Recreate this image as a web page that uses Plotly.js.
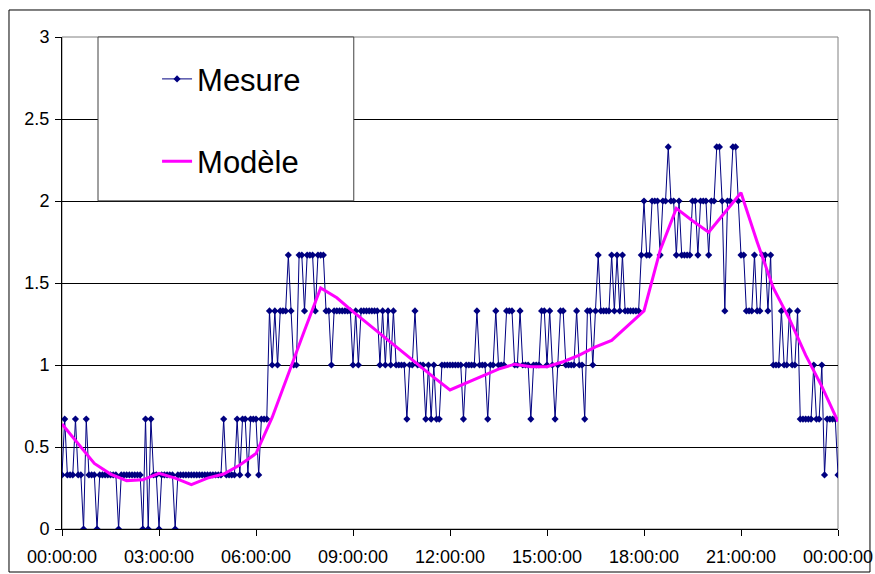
<!DOCTYPE html>
<html>
<head>
<meta charset="utf-8">
<script src="https://cdn.plot.ly/plotly-3.0.1.min.js"></script>
<style>
  html, body { margin: 0; padding: 0; background: #ffffff; }
  #chart { width: 875px; height: 574px; }
</style>
</head>
<body>
<div id="chart"></div>
<script>
// Relevé sur 24 h, un point toutes les 5 minutes (une ligne par heure)
const mesure = [
  // 00h
  0.33, 0.67, 0.33, 0.33, 0.33, 0.67, 0.33, 0.33, 0, 0.67, 0.33, 0.33,
  // 01h
  0.33, 0, 0.33, 0.33, 0.33, 0.33, 0.33, 0.33, 0.33, 0, 0.33, 0.33,
  // 02h
  0.33, 0.33, 0.33, 0.33, 0.33, 0.33, 0, 0.67, 0, 0.67, 0.33, 0.33,
  // 03h
  0, 0.33, 0.33, 0.33, 0.33, 0.33, 0, 0.33, 0.33, 0.33, 0.33, 0.33,
  // 04h
  0.33, 0.33, 0.33, 0.33, 0.33, 0.33, 0.33, 0.33, 0.33, 0.33, 0.33, 0.33,
  // 05h
  0.67, 0.33, 0.33, 0.33, 0.33, 0.67, 0.33, 0.67, 0.67, 0.33, 0.67, 0.67,
  // 06h
  0.67, 0.33, 0.67, 0.67, 0.67, 1.33, 1, 1.33, 1, 1.33, 1.33, 1.33,
  // 07h
  1.67, 1.33, 1, 1, 1.67, 1.67, 1.33, 1.67, 1.67, 1.67, 1.33, 1.67,
  // 08h
  1.67, 1.67, 1.33, 1.33, 1, 1.33, 1.33, 1.33, 1.33, 1.33, 1.33, 1.33,
  // 09h
  1, 1.33, 1, 1.33, 1.33, 1.33, 1.33, 1.33, 1.33, 1.33, 1, 1.33,
  // 10h
  1, 1.33, 1, 1.33, 1, 1, 1, 1, 0.67, 1, 1, 1.33,
  // 11h
  1, 1, 1, 0.67, 1, 0.67, 1, 0.67, 0.67, 1, 1, 1,
  // 12h
  1, 1, 1, 1, 1, 0.67, 1, 1, 1, 1, 1.33, 1,
  // 13h
  1, 1, 0.67, 1, 1, 1.33, 1, 1, 1, 1.33, 1.33, 1.33,
  // 14h
  1, 1, 1.33, 1, 1, 1, 0.67, 1, 1, 1, 1.33, 1.33,
  // 15h
  1, 1.33, 1, 0.67, 1, 1.33, 1.33, 1, 1, 1, 1, 1.33,
  // 16h
  1, 1, 0.67, 1.33, 1.33, 1, 1.33, 1.67, 1.33, 1.33, 1.33, 1.33,
  // 17h
  1.67, 1.33, 1.67, 1.33, 1.67, 1.33, 1.33, 1.33, 1.33, 1.33, 1.33, 1.67,
  // 18h
  2, 1.67, 1.67, 2, 2, 2, 1.67, 2, 2, 2.33, 2, 2,
  // 19h
  1.67, 2, 1.67, 1.67, 1.67, 1.67, 2, 2, 1.67, 2, 2, 2,
  // 20h
  1.67, 2, 2, 2.33, 2.33, 2, 1.33, 2, 2, 2.33, 2.33, 2,
  // 21h
  1.67, 1.67, 1.33, 1.33, 1.33, 1.67, 1.33, 1.33, 1.67, 1.67, 1.33, 1.67,
  // 22h
  1, 1, 1, 1.33, 1, 1, 1.33, 1, 1, 1.33, 0.67, 0.67,
  // 23h
  0.67, 0.67, 0.67, 1, 0.67, 0.67, 1, 0.33, 0.67, 0.67, 0.67, 0.67,
  // 24h
  0.33
];

// Modèle, un point par demi-heure de 00:00 à 24:00
const modele = [
  0.64, 0.52, 0.40, 0.335, 0.295, 0.30, 0.34, 0.31, 0.27, 0.31,
  0.335, 0.39, 0.46, 0.68, 0.95, 1.21, 1.47, 1.41, 1.325, 1.245,
  1.165, 1.08, 1.00, 0.925, 0.848, 0.89, 0.935, 0.975, 1.005, 0.99,
  0.99, 1.02, 1.06, 1.11, 1.15, 1.24, 1.33, 1.70, 1.955, 1.88,
  1.81, 1.93, 2.05, 1.75, 1.47, 1.28, 1.06, 0.87, 0.655
];

const pasMesureMin = 5;
const pasModeleMin = 30;
const jour = '2000-01-01';
const jourSuivant = '2000-01-02';
const yTicks = [0, 0.5, 1, 1.5, 2, 2.5, 3];

function horodatage(minutes) {
  const d = new Date(Date.UTC(2000, 0, 1, 0, minutes));
  const p = n => String(n).padStart(2, '0');
  return d.getUTCFullYear() + '-' + p(d.getUTCMonth() + 1) + '-' + p(d.getUTCDate()) +
         ' ' + p(d.getUTCHours()) + ':' + p(d.getUTCMinutes()) + ':00';
}

const tMesure = mesure.map((_, i) => horodatage(i * pasMesureMin));
const tModele = modele.map((_, i) => horodatage(i * pasModeleMin));

const police = 'Liberation Sans, Arial, sans-serif';

const traces = [
  {
    name: 'Mesure',
    x: tMesure,
    y: mesure,
    type: 'scatter',
    mode: 'lines+markers',
    legendgroup: 'a',
    line: { color: '#000080', width: 1 },
    marker: { symbol: 'diamond', size: 5.5, color: '#000080' }
  },
  {
    name: 'Modèle',
    x: tModele,
    y: modele,
    type: 'scatter',
    mode: 'lines',
    legendgroup: 'b',
    line: { color: '#FF00FF', width: 3 }
  }
];

const layout = {
  width: 875,
  height: 574,
  margin: { l: 62, r: 37, t: 37, b: 45 },
  paper_bgcolor: '#ffffff',
  plot_bgcolor: '#ffffff',
  font: { family: police, size: 18, color: '#000000' },
  showlegend: true,
  legend: {
    x: 0.1225, y: 0.969, xanchor: 'left', yanchor: 'top',
    bgcolor: 'rgba(0,0,0,0)',
    borderwidth: 0,
    font: { family: police, size: 31, color: '#000000' },
    tracegroupgap: 39,
    traceorder: 'grouped'
  },
  xaxis: {
    type: 'date',
    range: [jour + ' 00:00:00', jourSuivant + ' 00:00:00'],
    tick0: jour + ' 00:00:00',
    dtick: 3 * 3600 * 1000,
    tickformat: '%H:%M:%S',
    showgrid: false,
    zeroline: false,
    showline: true,
    linecolor: '#000000',
    linewidth: 1,
    ticks: 'outside',
    ticklen: 6,
    tickcolor: '#000000',
    ticklabelstandoff: 5,
    tickfont: { family: police, size: 18, color: '#000000' }
  },
  yaxis: {
    range: [0, 3],
    tickvals: yTicks,
    ticktext: yTicks.map(String),
    showgrid: true,
    gridcolor: '#000000',
    gridwidth: 1,
    zeroline: false,
    showline: true,
    linecolor: '#000000',
    linewidth: 1,
    ticks: 'outside',
    ticklen: 6,
    tickcolor: '#000000',
    ticklabelstandoff: 2,
    tickfont: { family: police, size: 18, color: '#000000' }
  },
  shapes: [
    // cadre de la zone de tracé
    { type: 'rect', xref: 'paper', yref: 'paper', x0: 0, x1: 1, y0: 0, y1: 1,
      line: { color: '#808080', width: 1 }, layer: 'below' },
    // cadre de la légende
    { type: 'rect', xref: 'paper', yref: 'paper',
      x0: 0.0464, x1: 0.376, y0: 0.667, y1: 1,
      fillcolor: '#ffffff', line: { color: '#404040', width: 1 }, layer: 'above' },
    // cadre du graphique
    { type: 'rect', xref: 'paper', yref: 'paper',
      x0: -0.0683, x1: 1.0412, y0: -0.0874, y1: 1.0549,
      line: { color: '#000000', width: 1 }, layer: 'above' }
  ]
};

Plotly.newPlot('chart', traces, layout, { staticPlot: true, displayModeBar: false });
</script>
</body>
</html>
